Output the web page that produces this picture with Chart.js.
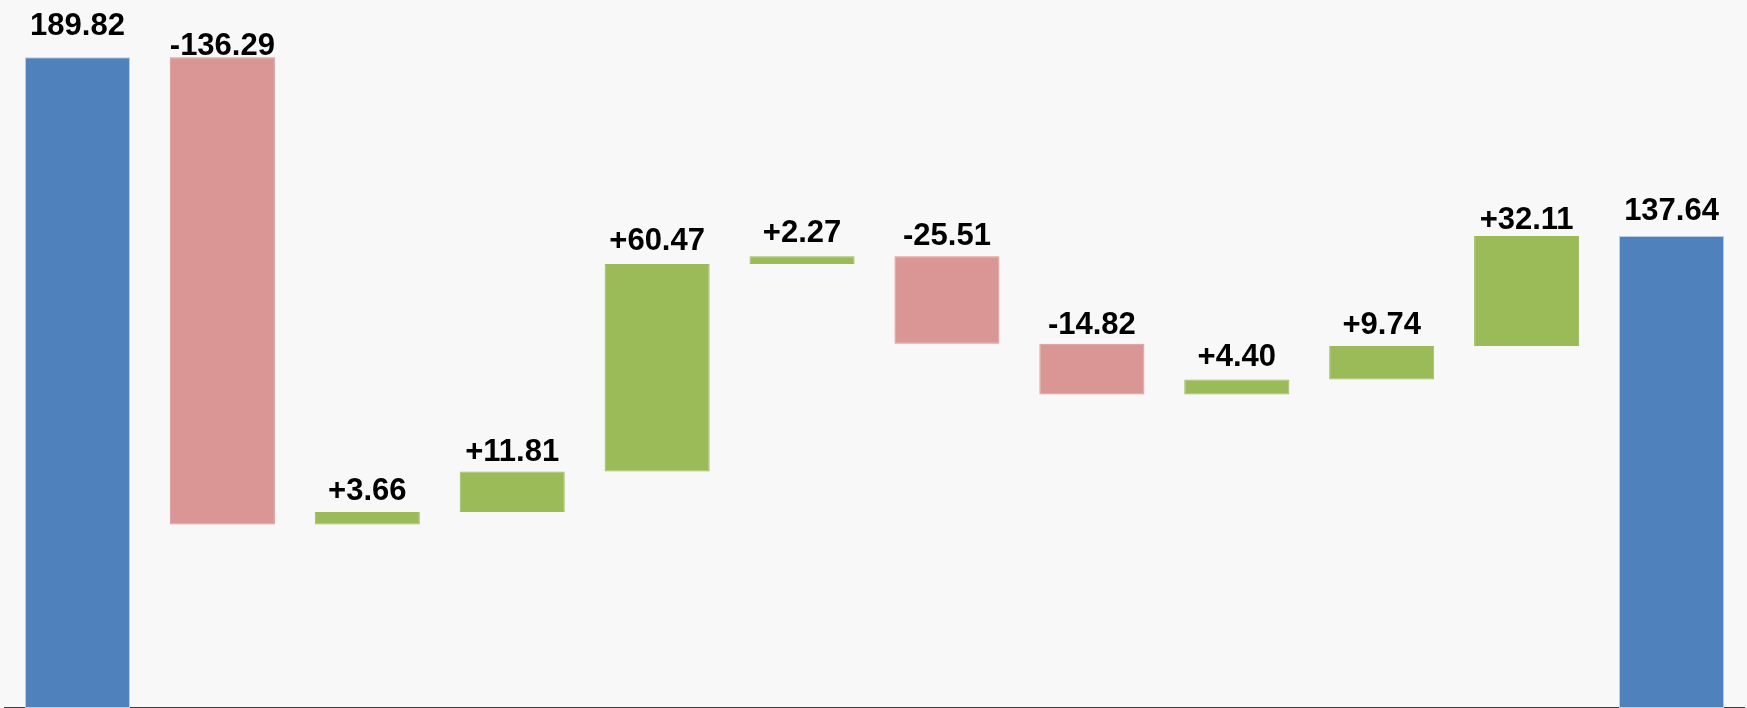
<!DOCTYPE html>
<html lang="en">
<head>
  <meta charset="UTF-8">
  <title>Waterfall</title>
  <script src="https://cdn.jsdelivr.net/npm/chart.js"></script>
  <style>
    html, body { margin: 0; padding: 0; background: #f8f8f8; }
    #wrap { width: 1747px; height: 708px; position: relative; }
  </style>
</head>
<body>
  <div id="wrap"><canvas id="chart"></canvas></div>

  <script>
    // etapas do waterfall: total inicial, variações, total final
    const steps = ['Início', 'A', 'B', 'C', 'D', 'E', 'F', 'G', 'H', 'I', 'J', 'Fim'];
    const changes = [189.82, -136.29, 3.66, 11.81, 60.47, 2.27, -25.51, -14.82, 4.40, 9.74, 32.11, 137.64];
    const kinds = ['total', 'delta', 'delta', 'delta', 'delta', 'delta', 'delta', 'delta', 'delta', 'delta', 'delta', 'total'];

    const colors = { total: '#4f81bd', up: '#9bbb59', down: '#d99694' };

    // monta as barras flutuantes [base, topo]
    let running = 0;
    const ranges = [];
    const fills = [];
    const borders = [];
    const labels = [];
    changes.forEach((v, i) => {
      if (kinds[i] === 'total') {
        ranges.push([0, v]);
        running = v;
        fills.push(colors.total);
        borders.push('#b9cde5');
        labels.push(v.toFixed(2));
      } else {
        const start = running;
        running = running + v;
        ranges.push([Math.min(start, running), Math.max(start, running)]);
        fills.push(v >= 0 ? colors.up : colors.down);
        borders.push(v >= 0 ? colors.up : colors.down);
        labels.push((v >= 0 ? '+' : '-') + Math.abs(v).toFixed(2));
      }
    });

    // rótulos acima de cada barra
    const topLabels = {
      id: 'topLabels',
      afterDatasetsDraw(chart, args, opts) {
        const ctx = chart.ctx;
        const meta = chart.getDatasetMeta(0);
        ctx.save();
        ctx.font = 'bold 31px "Liberation Sans", Arial, sans-serif';
        ctx.fillStyle = '#000';
        ctx.textAlign = 'center';
        ctx.textBaseline = 'alphabetic';
        meta.data.forEach((bar, i) => {
          const nudge = opts.nudge[i] || 0;
          ctx.fillText(labels[i], bar.x, bar.y - 11 + nudge);
        });
        ctx.restore();
      }
    };

    new Chart(document.getElementById('chart'), {
      type: 'bar',
      data: {
        labels: steps,
        datasets: [{
          data: ranges,
          backgroundColor: fills,
          borderColor: borders,
          borderWidth: 1,
          borderSkipped: false,
          categoryPercentage: 1,
          barPercentage: 0.725
        }]
      },
      options: {
        responsive: true,
        maintainAspectRatio: false,
        animation: false,
        layout: { padding: { left: 5, right: 3, top: 0, bottom: 0 } },
        plugins: {
          legend: { display: false },
          tooltip: { enabled: false },
          topLabels: { nudge: [-11, 9, -1, 1, -3, -3, 0, 1, -3, -1, 4, -5] }
        },
        scales: {
          x: {
            grid: { display: false, drawTicks: false },
            ticks: { display: false },
            border: { color: '#404040', width: 2 }
          },
          y: {
            display: false,
            min: 0,
            max: 206.5
          }
        }
      },
      plugins: [topLabels]
    });
  </script>
</body>
</html>
